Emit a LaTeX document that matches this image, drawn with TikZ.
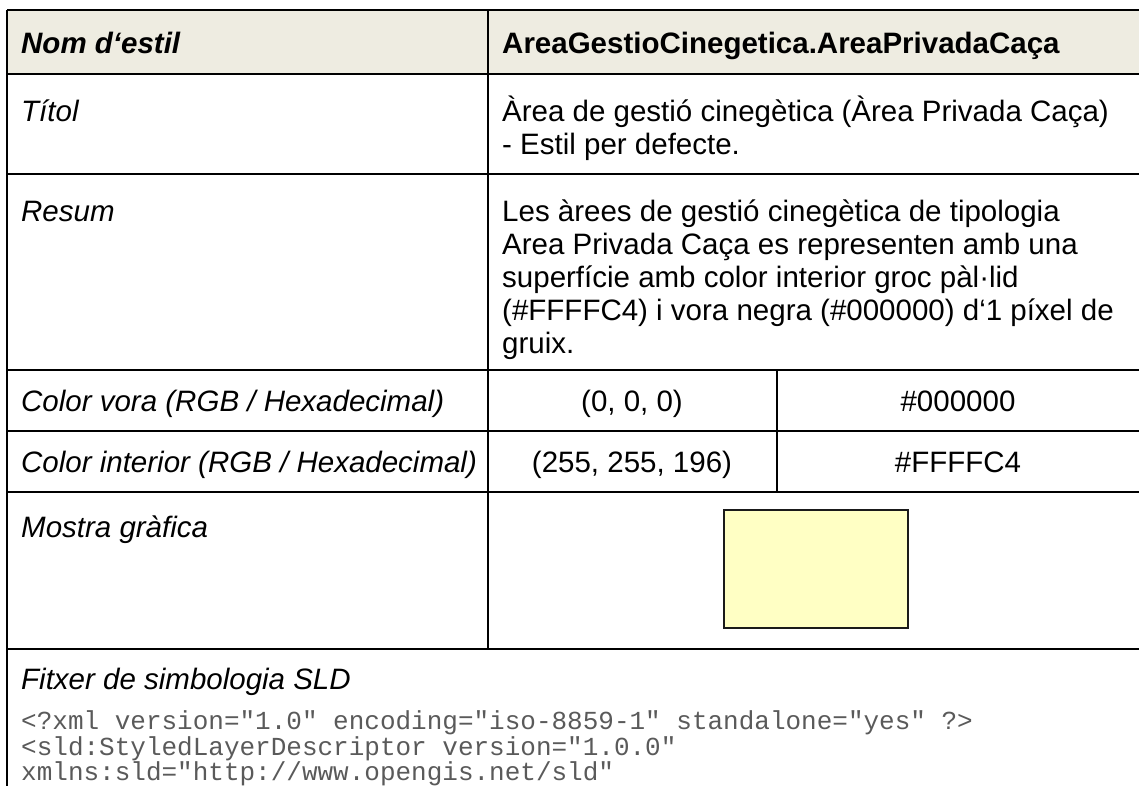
\documentclass[tikz,border=0pt]{standalone}
\usepackage{fontspec}
\setmainfont{Liberation Sans}
\setmonofont{Liberation Mono}
\definecolor{hdr}{HTML}{EEECE1}
\definecolor{fillc}{HTML}{FFFFC4}
\definecolor{codec}{HTML}{5A5A5A}
\definecolor{swb}{HTML}{1A1A1A}
\newcommand{\bodyfont}{\fontsize{29.5}{33}\selectfont}
\tikzset{
  gridline/.style={line width=1.8pt, black},
  lbl/.style={anchor=base west, inner sep=0pt, font=\bodyfont\itshape},
  hlbl/.style={anchor=base west, inner sep=0pt, font=\bodyfont\bfseries\itshape},
  hval/.style={anchor=base west, inner sep=0pt, font=\bodyfont\bfseries},
  val/.style={anchor=base west, inner sep=0pt, font=\bodyfont},
  cval/.style={anchor=base, inner sep=0pt, font=\bodyfont},
  codeln/.style={anchor=base west, inner sep=0pt, font=\fontsize{26}{30}\selectfont\ttfamily, text=codec},
  swatch/.style={draw=swb, line width=1.6pt, fill=fillc, inner sep=0pt, minimum width=184pt, minimum height=118pt}
}
\begin{document}
\begin{tikzpicture}[x=1pt,y=-1pt]
\useasboundingbox (0,0) rectangle (1139,785);
\clip (0,0) rectangle (1139,785);
% header background
\fill[hdr] (7,10) rectangle (1145,74);
% horizontal rules
\foreach \yy in {10,74,174,370,431,492,649}
  \draw[gridline] (7,\yy) -- (1150,\yy);
% vertical rules
\draw[gridline] (7,10) -- (7,790);
\draw[gridline] (488,10) -- (488,649);
\draw[gridline] (777,370) -- (777,492);

% header
\node[hlbl] (h1) at (21,53) {Nom d‘estil};
\node[hval] (h2) at (502,53) {AreaGestioCinegetica.AreaPrivadaCaça};
% Titol
\node[lbl] (t1) at (21,121) {Títol};
\node[val] (t2a) at (502,121) {Àrea de gestió cinegètica (Àrea Privada Caça)};
\node[val] (t2b) at (502,154) {- Estil per defecte.};
% Resum
\node[lbl] (r1) at (21,221) {Resum};
\node[val] (r2a) at (502,221) {Les àrees de gestió cinegètica de tipologia};
\node[val] (r2b) at (502,254) {Area Privada Caça es representen amb una};
\node[val] (r2c) at (502,287) {superfície amb color interior groc pàl·lid};
\node[val] (r2d) at (502,320) {(\#FFFFC4) i vora negra (\#000000) d‘1 píxel de};
\node[val] (r2e) at (502,353) {gruix.};
% Color vora
\node[lbl] (v1) at (21,411) {Color vora (RGB / Hexadecimal)};
\node[cval] (v2) at (632,411) {(0, 0, 0)};
\node[cval] (v3) at (958,411) {\#000000};
% Color interior
\node[lbl] (i1) at (21,472) {Color interior (RGB / Hexadecimal)};
\node[cval] (i2) at (632,472) {(255, 255, 196)};
\node[cval] (i3) at (958,472) {\#FFFFC4};
% Mostra
\node[lbl] (m1) at (21,537) {Mostra gràfica};
\node[swatch, anchor=north west] (sw) at (723,509) {};
% Fitxer
\node[lbl] (f1) at (21,689) {Fitxer de simbologia SLD};
\node[codeln] (c1) at (21,729) {<?xml version="1.0" encoding="iso-8859-1" standalone="yes" ?>};
\node[codeln] (c2) at (21,755) {<sld:StyledLayerDescriptor version="1.0.0"};
\node[codeln] (c3) at (21,780) {xmlns:sld="http://www.opengis.net/sld"};
\end{tikzpicture}
\end{document}
